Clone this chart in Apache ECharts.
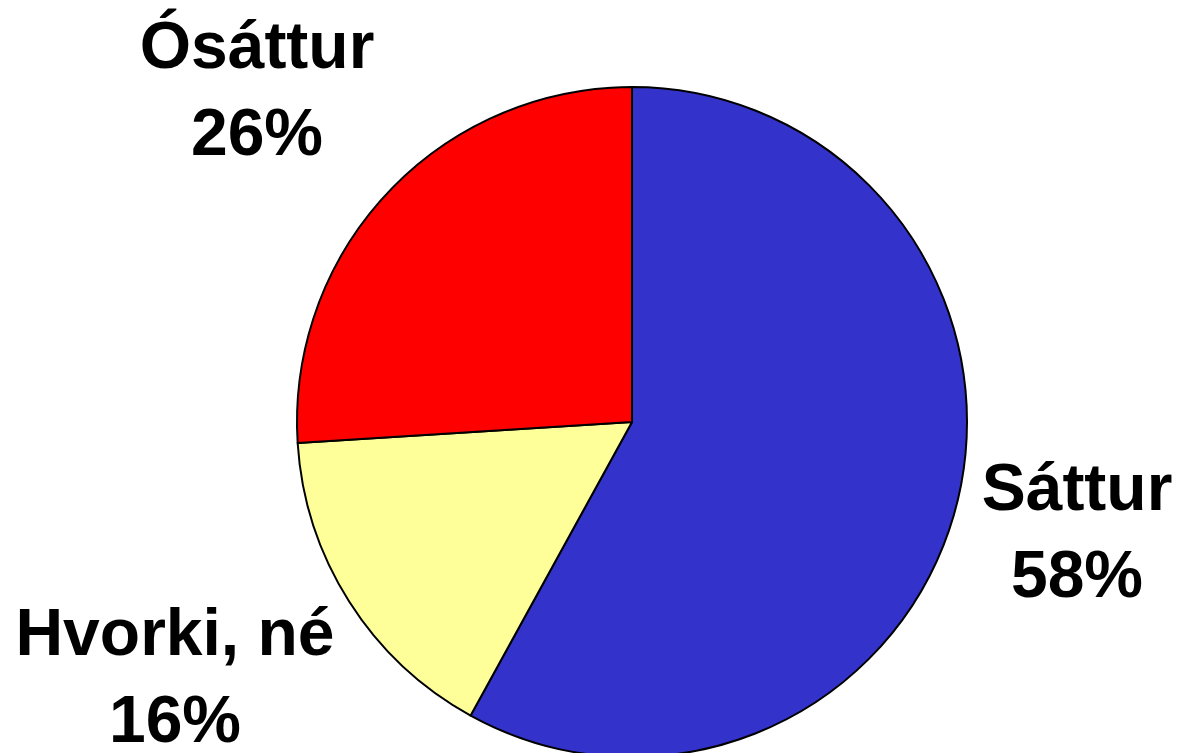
<!DOCTYPE html>
<html>
<head>
<meta charset="utf-8">
<script src="https://cdn.jsdelivr.net/npm/echarts@6/dist/echarts.min.js"></script>
<style>
  html, body { margin: 0; padding: 0; background: #fff; }
  #main { width: 1180px; height: 753px; }
</style>
</head>
<body>
<div id="main"></div>
<script>
// flokkar og gildi (%)
var categories = ['Sáttur', 'Hvorki, né', 'Ósáttur'];
var values = [58, 16, 26];
var colors = ['#3333CC', '#FFFF99', '#FF0000'];

// staðsetning merkja (miðja textablokkar)
var labelPos = [[1077, 535], [175, 680], [257, 93]];

var myChart = echarts.init(document.getElementById('main'));

var data = [];
for (var i = 0; i < categories.length; i++) {
    data.push({ name: categories[i], value: values[i], itemStyle: { color: colors[i] } });
}

var option = {
    animation: false,
    series: [{
        type: 'pie',
        center: [632, 422],
        radius: 335,
        startAngle: 90,
        clockwise: true,
        itemStyle: { borderColor: '#000', borderWidth: 2 },
        label: {
            show: true,
            position: 'outside',
            formatter: '{b}\n{d}%',
            fontFamily: '"Liberation Sans", Arial, sans-serif',
            fontWeight: 'bold',
            fontSize: 66,
            lineHeight: 87,
            color: '#000',
            align: 'center',
            overflow: 'none'
        },
        labelLine: { show: false },
        labelLayout: function (params) {
            var p = labelPos[params.dataIndex];
            return { x: p[0], y: p[1], align: 'center', verticalAlign: 'middle' };
        },
        emphasis: { disabled: true },
        data: data
    }]
};

myChart.setOption(option);
</script>
</body>
</html>
